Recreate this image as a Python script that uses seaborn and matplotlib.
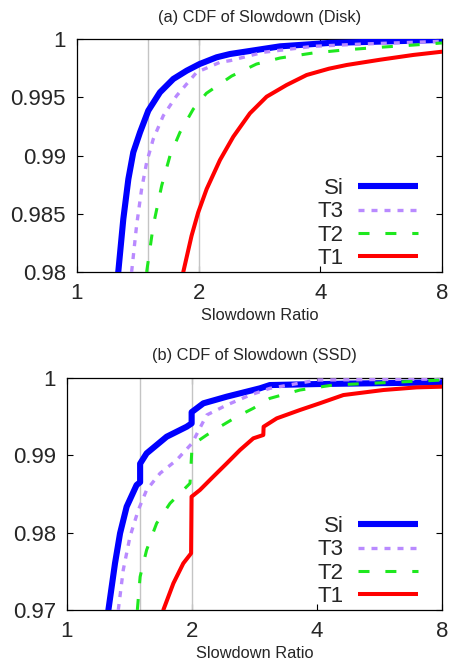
import matplotlib
matplotlib.use("Agg")
import matplotlib.pyplot as plt
import seaborn as sns
from matplotlib.ticker import FixedLocator, FixedFormatter, NullLocator

sns.set_style("ticks")
plt.rcParams['font.family'] = ['Liberation Sans', 'DejaVu Sans']

# ---------------- (a) Disk ----------------
disk_si_x = [1.265, 1.302, 1.34, 1.378, 1.432, 1.501, 1.604, 1.731, 1.868, 2.01, 2.216, 2.39, 3.18, 4.2, 8.0]
disk_si_y = [0.9800, 0.98455, 0.98798, 0.99027, 0.99199, 0.99385, 0.99542, 0.99657, 0.99728, 0.99785, 0.99843, 0.99871, 0.99937, 0.99966, 0.99992]

disk_t3_x = [1.365, 1.404, 1.445, 1.487, 1.544, 1.635, 1.764, 1.977, 2.258, 2.39, 2.89, 3.84, 5.1, 8.0]
disk_t3_y = [0.9800, 0.98397, 0.98712, 0.98941, 0.99141, 0.99342, 0.99513, 0.99714, 0.9980, 0.99814, 0.99886, 0.99937, 0.99957, 0.9998]

disk_t2_x = [1.487, 1.544, 1.62, 1.699, 1.798, 1.94, 2.09, 2.413, 2.78, 3.18, 3.84, 4.65, 5.62, 6.79, 8.0]
disk_t2_y = [0.9800, 0.98397, 0.98741, 0.98999, 0.99199, 0.99399, 0.99534, 0.99682, 0.99785, 0.99837, 0.9988, 0.99908, 0.99929, 0.99948, 0.99966]

disk_t1_x = [1.832, 1.921, 1.995, 2.093, 2.258, 2.436, 2.678, 2.946, 3.30, 3.70, 4.2, 4.65, 5.62, 6.79, 8.0]
disk_t1_y = [0.9800, 0.98312, 0.98512, 0.98712, 0.98961, 0.99161, 0.99362, 0.99505, 0.99605, 0.99691, 0.99745, 0.99777, 0.99822, 0.99863, 0.99891]

# ---------------- (b) SSD ----------------
ssd_si_x = [1.258, 1.305, 1.342, 1.392, 1.471, 1.50, 1.50, 1.555, 1.738, 1.942, 1.996, 1.996, 2.13, 2.425, 2.916, 3.08, 4.0, 8.0]
ssd_si_y = [0.9700, 0.97603, 0.9799, 0.98334, 0.98614, 0.9865, 0.9889, 0.99023, 0.99238, 0.99367, 0.9941, 0.99555, 0.99669, 0.99755, 0.99863, 0.99905, 0.99918, 0.9994]

ssd_t3_x = [1.329, 1.366, 1.418, 1.485, 1.555, 1.675, 1.837, 2.0, 2.17, 2.425, 2.76, 3.08, 4.0, 8.0]
ssd_t3_y = [0.9700, 0.97517, 0.97947, 0.98291, 0.9855, 0.98765, 0.98937, 0.99153, 0.99518, 0.99647, 0.99776, 0.99862, 0.9997, 0.99983]

ssd_t2_x = [1.477, 1.50, 1.555, 1.644, 1.771, 1.978, 2.0, 2.055, 2.17, 2.336, 2.563, 2.81, 3.08, 3.64, 4.37, 8.0]
ssd_t2_y = [0.9700, 0.9743, 0.97775, 0.9812, 0.98378, 0.98636, 0.9910, 0.99173, 0.9926, 0.99367, 0.99496, 0.99605, 0.99733, 0.99841, 0.99905, 0.9997]

ssd_t1_x = [1.706, 1.804, 1.906, 1.99, 1.995, 2.09, 2.25, 2.425, 2.61, 2.81, 2.97, 2.975, 3.2, 3.64, 4.06, 4.63, 5.78, 6.95, 8.0]
ssd_t1_y = [0.9700, 0.97345, 0.97603, 0.97732, 0.98463, 0.9855, 0.98722, 0.98894, 0.99066, 0.99217, 0.9926, 0.99367, 0.99475, 0.99583, 0.99669, 0.99776, 0.99841, 0.99875, 0.99884]

series_labels = ["Si", "T3", "T2", "T1"]
x_ticks = [1, 2, 4, 8]
x_tick_labels = ["1", "2", "4", "8"]
disk_y_ticks = [0.98, 0.985, 0.99, 0.995, 1.0]
disk_y_tick_labels = ["0.98", "0.985", "0.99", "0.995", "1"]
ssd_y_ticks = [0.97, 0.98, 0.99, 1.0]
ssd_y_tick_labels = ["0.97", "0.98", "0.99", "1"]
marker_lines = [1.5, 2.0]

styles = {
    "Si": dict(color="#0000ff", linewidth=4.4, linestyle="-"),
    "T3": dict(color="#b98aff", linewidth=2.4, dashes=(1.8, 2.1)),
    "T2": dict(color="#1ee81e", linewidth=2.2, dashes=(3.6, 5.2)),
    "T1": dict(color="#ff0000", linewidth=2.9, linestyle="-"),
}

fig = plt.figure(figsize=(4.51, 6.62), dpi=100)
ax_disk = fig.add_axes([77 / 451, 1 - 272 / 662, 365 / 451, 233 / 662])
ax_ssd = fig.add_axes([67 / 451, 1 - 610 / 662, 375 / 451, 232.3 / 662])


def draw_panel(ax, data, title, yticks, ylabels, ylim, legend_anchor):
    for xv in marker_lines:
        ax.axvline(xv, color="#c4c4c4", linewidth=1.0, zorder=1)
    for lab, (xs, ys) in zip(series_labels, data):
        st = dict(styles[lab])
        sns.lineplot(x=xs, y=ys, ax=ax, estimator=None, sort=False,
                     label=lab, zorder=3, **st)
    ax.set_xscale("log", base=2)
    ax.set_xlim(1, 8)
    ax.set_ylim(*ylim)
    ax.xaxis.set_major_locator(FixedLocator(x_ticks))
    ax.xaxis.set_major_formatter(FixedFormatter(x_tick_labels))
    ax.xaxis.set_minor_locator(NullLocator())
    ax.yaxis.set_major_locator(FixedLocator(yticks))
    ax.yaxis.set_major_formatter(FixedFormatter(ylabels))
    ax.tick_params(axis="both", which="major", direction="in", length=4,
                   width=0.8, labelsize=16, top=True, right=True, pad=8,
                   color="black")
    for sp in ax.spines.values():
        sp.set_visible(True)
        sp.set_color("black")
        sp.set_linewidth(0.9)
    ax.set_title(title, fontsize=11.8, pad=12.5)
    ax.set_xlabel("Slowdown Ratio", fontsize=11.8, labelpad=3)
    ax.set_ylabel("")
    leg = ax.legend(loc="lower right", bbox_to_anchor=legend_anchor,
                    frameon=False, markerfirst=False, fontsize=16,
                    handlelength=2.7, handletextpad=0.65, labelspacing=0.11,
                    borderaxespad=0, borderpad=0)
    for h in leg.get_lines():
        h.set_solid_capstyle("butt")


draw_panel(ax_disk,
           [(disk_si_x, disk_si_y), (disk_t3_x, disk_t3_y),
            (disk_t2_x, disk_t2_y), (disk_t1_x, disk_t1_y)],
           "(a) CDF of Slowdown (Disk)", disk_y_ticks, disk_y_tick_labels,
           (0.98, 1.0), (0.934, 0.012))
draw_panel(ax_ssd,
           [(ssd_si_x, ssd_si_y), (ssd_t3_x, ssd_t3_y),
            (ssd_t2_x, ssd_t2_y), (ssd_t1_x, ssd_t1_y)],
           "(b) CDF of Slowdown (SSD)", ssd_y_ticks, ssd_y_tick_labels,
           (0.97, 1.0), (0.936, 0.012))

fig.savefig("out.png", dpi=100)
